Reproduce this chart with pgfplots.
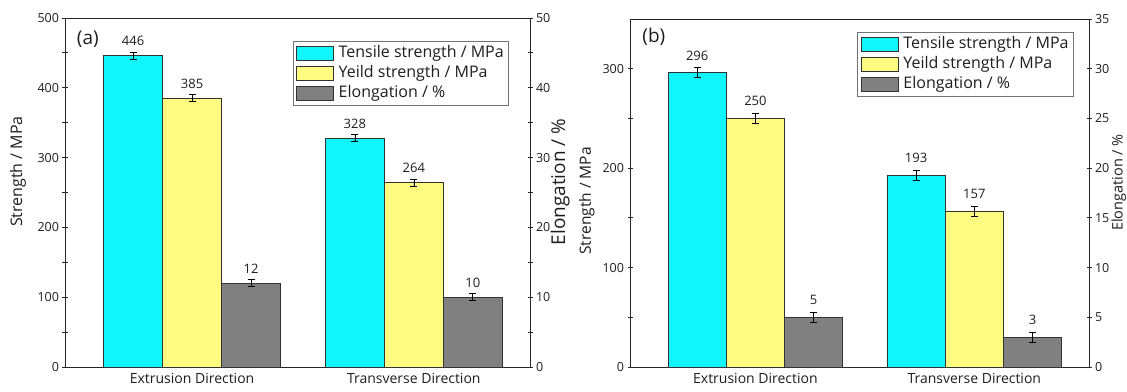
\documentclass[border=0pt]{standalone}
\usepackage{pgfplots}
\usepackage{pgfplotstable}
\pgfplotsset{compat=1.18}
\usepackage{fontspec}
\setmainfont{Open Sans}
\definecolor{tsc}{RGB}{16,246,252}
\definecolor{ysc}{RGB}{254,251,128}
\definecolor{elc}{RGB}{128,128,128}
\definecolor{txt}{RGB}{30,30,30}

\pgfplotstableread{
x ts tse ys yse el ele
0 446 5 385 5 12 0.5
1 328 5 264 5 10 0.5
}\dataA
\pgfplotstableread{
x ts tse ys yse el ele
0 296 5 250 5 5 0.5
1 193 5 157 5 3 0.5
}\dataB

\pgfplotsset{
  common/.style={
    scale only axis, xmin=-0.573, xmax=1.524, ymin=0,
    ybar, bar width=0.266, bar shift=0pt,
    tick align=center, major tick length=5pt, minor tick length=5pt,
    every tick/.style={black!85, line width=0.8pt},
    axis line style={line width=0.9pt, black!85},
    /pgf/number format/assume math mode=true,
    tick label style={font=\fontsize{12.5}{14}\selectfont, text=txt},
    minor y tick num=1,
    xtick={0,1}, xtick style={draw=none},
    nodes near coords,
    every node near coord/.append style={font=\fontsize{13}{15}\selectfont, anchor=south, inner sep=1pt, text=txt},
  },
  legimg/.style={legend image code/.code={\draw[##1] (0pt,-7pt) rectangle (37pt,7pt);}},
  barst/.style={draw=black!80, line width=0.7pt, fill=#1, legimg,
    error bars/.cd, y dir=both, y explicit,
    error bar style={black, line width=0.6pt},
    error mark options={rotate=90, black, line width=0.6pt, mark size=3.5pt}},
  legst/.style={draw=black!55, line width=0.6pt, font=\fontsize{16}{19}\selectfont, text=txt,
    inner xsep=3pt, inner ysep=2pt, row sep=0pt, column sep=3pt,
    nodes={inner sep=2pt, text height=12pt, text depth=4pt}},
}

\begin{document}
\begin{tikzpicture}
\useasboundingbox (0,0) rectangle (1127pt,391pt);

% ---------------- Panel (a) ----------------
\begin{axis}[common, at={(65pt,24pt)}, anchor=south west,
  width=465pt, height=349pt, ymax=500,
  ytick={0,100,...,500}, ytick pos=left,
  xticklabels={Extrusion Direction, Transverse Direction},
  xticklabel style={font=\fontsize{14}{16}\selectfont, text=txt},
  every node near coord/.append style={yshift=8.5pt},
  ylabel={Strength / MPa},
  ylabel style={at={(axis description cs:-0.101,0.56)}, anchor=center, font=\fontsize{16}{18}\selectfont, text=txt},
  legend style={legst, at={(axis description cs:0.955,0.934)}, anchor=north east},
  legend cell align=left,
]
\addplot[barst=tsc] table[x expr=\thisrow{x}-0.266, y=ts, y error=tse] {\dataA};
\addlegendentry{Tensile strength / MPa}
\addplot[barst=ysc] table[x=x, y=ys, y error=yse] {\dataA};
\addlegendentry{Yeild strength / MPa}
\addlegendimage{legimg, draw=black!80, line width=0.7pt, fill=elc}
\addlegendentry{Elongation / \%}
\node[font=\fontsize{19}{22}\selectfont, text=txt] at (axis description cs:0.049,0.938) {(a)};
\end{axis}

\begin{axis}[common, at={(65pt,24pt)}, anchor=south west,
  width=465pt, height=349pt, ymax=50,
  ytick={0,10,...,50},
  axis y line*=right, axis x line=none,
  every node near coord/.append style={yshift=8.5pt},
  ylabel={Elongation / \%},
  ylabel style={at={(axis description cs:1.065,0.53)}, anchor=center, font=\fontsize{19}{22}\selectfont, text=txt},
]
\addplot[barst=elc] table[x expr=\thisrow{x}+0.266, y=el, y error=ele] {\dataA};
\end{axis}

% ---------------- Panel (b) ----------------
\begin{axis}[common, at={(630pt,24pt)}, anchor=south west,
  width=459pt, height=348pt, ymax=350,
  ytick={0,100,...,300}, ytick pos=left,
  minor ytick={50,150,250},
  xticklabels={Extrusion Direction, Transverse Direction},
  xticklabel style={font=\fontsize{14}{16}\selectfont, text=txt},
  every node near coord/.append style={yshift=11pt},
  ylabel={Strength / MPa},
  ylabel style={at={(axis description cs:-0.094,0.477)}, anchor=center, font=\fontsize{15.5}{17}\selectfont, text=txt},
  legend style={legst, at={(axis description cs:0.967,0.963)}, anchor=north east},
  legend cell align=left,
]
\addplot[barst=tsc] table[x expr=\thisrow{x}-0.266, y=ts, y error=tse] {\dataB};
\addlegendentry{Tensile strength / MPa}
\addplot[barst=ysc] table[x=x, y=ys, y error=yse] {\dataB};
\addlegendentry{Yeild strength / MPa}
\addlegendimage{legimg, draw=black!80, line width=0.7pt, fill=elc}
\addlegendentry{Elongation / \%}
\node[font=\fontsize{19}{22}\selectfont, text=txt] at (axis description cs:0.052,0.95) {(b)};
\end{axis}

\begin{axis}[common, at={(630pt,24pt)}, anchor=south west,
  width=459pt, height=348pt, ymax=35,
  ytick={0,5,...,35}, minor y tick num=0,
  axis y line*=right, axis x line=none,
  every node near coord/.append style={yshift=11pt},
  ylabel={Elongation / \%},
  ylabel style={at={(axis description cs:1.065,0.53)}, anchor=center, font=\fontsize{14.5}{17}\selectfont, text=txt},
]
\addplot[barst=elc] table[x expr=\thisrow{x}+0.266, y=el, y error=ele] {\dataB};
\end{axis}
\end{tikzpicture}
\end{document}
